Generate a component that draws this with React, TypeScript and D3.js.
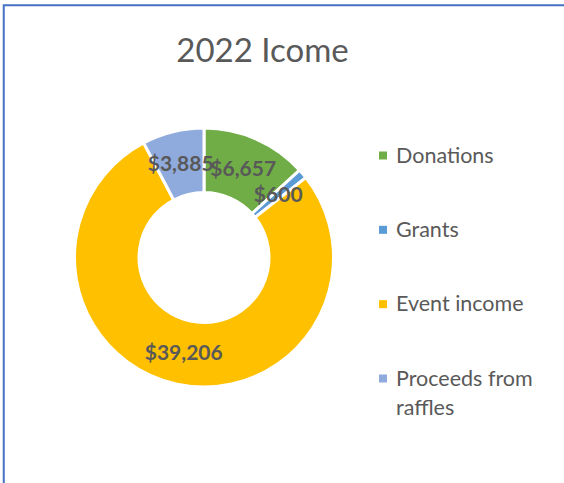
import React, { useEffect, useRef } from 'react';
import * as d3 from 'd3';

const categories = ['Donations', 'Grants', 'Event income', 'Proceeds from raffles'];
const values = [6657, 600, 39206, 3885];
const colors = ['#70AD47', '#5B9BD5', '#FFC000', '#8FAADC'];
const legendLines = [['Donations'], ['Grants'], ['Event income'], ['Proceeds from', 'raffles']];

const App = () => {
    const ref = useRef<SVGSVGElement>(null);

    useEffect(() => {
        const svg = d3.select(ref.current);
        svg.selectAll('*').remove();

        // chart frame, runs past the right and bottom edge
        svg.append('rect')
            .attr('x', 3.75).attr('y', 5.25)
            .attr('width', 800).attr('height', 800)
            .attr('fill', '#fff')
            .attr('stroke', '#4472C4')
            .attr('stroke-width', 2);

        svg.append('text')
            .attr('x', 262.5).attr('y', 62)
            .attr('text-anchor', 'middle')
            .style('font-family', 'Lato, sans-serif')
            .style('font-weight', '400')
            .style('font-size', '33px')
            .style('fill', '#595959')
            .text('2022 Icome');

        const pie = d3.pie<number>().sort(null).value(d => d);
        const arc = d3.arc<d3.PieArcDatum<number>>().innerRadius(65).outerRadius(129.5);
        const arcs = pie(values);

        const g = svg.append('g').attr('transform', 'translate(204, 257.5)');
        g.selectAll('path')
            .data(arcs)
            .enter()
            .append('path')
            .attr('d', arc)
            .attr('fill', (d, i) => colors[i])
            .attr('stroke', '#fff')
            .attr('stroke-width', 3);

        g.selectAll('text.lbl')
            .data(arcs)
            .enter()
            .append('text')
            .attr('class', 'lbl')
            .attr('x', d => arc.centroid(d)[0])
            .attr('y', d => arc.centroid(d)[1])
            .attr('dy', '0.36em')
            .attr('text-anchor', 'middle')
            .style('font-family', 'Lato, sans-serif')
            .style('font-weight', '700')
            .style('font-size', '21px')
            .style('fill', '#595959')
            .text(d => '$' + d3.format(',')(d.data));

        const legendY = d3.scalePoint<string>().domain(categories).range([155.5, 378.5]);
        const legend = svg.append('g');
        categories.forEach((c, i) => {
            const y = legendY(c) as number;
            legend.append('rect')
                .attr('x', 379).attr('y', y - 4)
                .attr('width', 8).attr('height', 8)
                .attr('fill', colors[i]);
            const t = legend.append('text')
                .attr('x', 396).attr('y', y + 7)
                .style('font-family', 'Lato, sans-serif')
                .style('font-size', '21.5px')
                .style('fill', '#595959');
            legendLines[i].forEach((line, j) => {
                t.append('tspan').attr('x', 396).attr('dy', j === 0 ? 0 : 29).text(line);
            });
        });
    }, []);

    return (
        <svg ref={ref} width={564} height={483}
            style={{ position: 'absolute', left: 0, top: 0, background: '#fff' }} />
    );
};

export default App;
